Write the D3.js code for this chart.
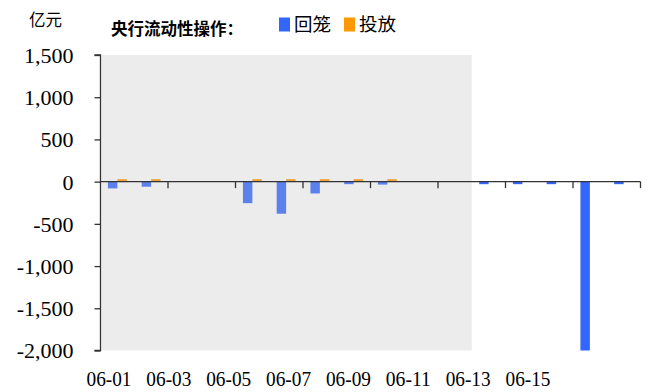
<!DOCTYPE html>
<html><head><meta charset="utf-8">
<script src="https://cdn.jsdelivr.net/npm/d3@7"></script>
<style>body{margin:0;background:#fff}</style>
</head><body><svg id="c" width="651" height="392"></svg>
<script>
const categories = ["06-01","06-02","06-03","06-04","06-05","06-06","06-07","06-08","06-09","06-10","06-11","06-12","06-13","06-14","06-15","06-16"];
const huilong = [-80,-60,0,0,-255,-380,-140,-30,-35,0,0,-30,-30,-30,-2000,-30];
const toufang = [30,30,0,0,30,30,30,30,30,0,0,0,0,0,0,0];
const shadedDays = ["06-01","06-11"];
const yTicks = [1500,1000,500,0,-500,-1000,-1500,-2000];
const xLabels = ["06-01","06-03","06-05","06-07","06-09","06-11","06-13","06-15"];
const seriesNames = ["回笼","投放"];
const colors = ["#3366FF","#FF9900"];

const svg = d3.select("#c");
const serif = "'Liberation Serif','Times New Roman',serif";
const cjk = "'Noto Sans CJK SC','Noto Sans',sans-serif";
const fmt = d3.formatLocale({decimal: ".", thousands: ",", grouping: [3], currency: ["", ""], minus: "-"}).format(",");

const x = d3.scaleBand().domain(categories).range([100.5, 640.5]).padding(0);
const y = d3.scaleLinear().domain([-2000, 1500]).range([350.5, 55]);
const bw = x.bandwidth() * 0.28;

// bars
const g = svg.append("g");
g.selectAll(".b1").data(categories).enter().append("rect")
  .attr("x", d => x(d) + x.bandwidth()/2 - bw)
  .attr("width", bw)
  .attr("y", (d,i) => y(Math.max(0, huilong[i])))
  .attr("height", (d,i) => Math.abs(y(huilong[i]) - y(0)))
  .attr("fill", colors[0]);
g.selectAll(".b2").data(categories).enter().append("rect")
  .attr("x", d => x(d) + x.bandwidth()/2)
  .attr("width", bw)
  .attr("y", (d,i) => y(Math.max(0, toufang[i])))
  .attr("height", (d,i) => Math.abs(y(toufang[i]) - y(0)))
  .attr("fill", colors[1]);

// shaded overlay
svg.append("rect")
  .attr("x", x(shadedDays[0]) + 1)
  .attr("width", x(shadedDays[1]) + x.bandwidth() - x(shadedDays[0]) - 1)
  .attr("y", y(1500))
  .attr("height", y(-2000) - y(1500))
  .attr("fill", "#bfbfbf").attr("opacity", 0.3);

// y axis
const ya = svg.append("g").attr("transform", "translate(100.5,0)")
  .call(d3.axisLeft(y).tickValues(yTicks).tickSize(6).tickPadding(21).tickFormat(fmt));
ya.select(".domain").attr("stroke", "#333").attr("stroke-width", 1.3).attr("d", `M-6,${y(1500)}H0V${y(-2000)}H-6`);
ya.selectAll(".tick line").attr("stroke", "#333").attr("stroke-width", 1.3);
ya.selectAll(".tick text").attr("font-family", serif).attr("font-size", 22).attr("fill", "#000").attr("dy", "0.34em");

// x axis at zero
const z = y(0);
svg.append("line").attr("x1", 100.5).attr("x2", 640.5).attr("y1", z).attr("y2", z)
  .attr("stroke", "#333").attr("stroke-width", 1.3);
const tickCats = categories.filter((d,i) => i % 2 === 1);
svg.selectAll(".xt").data(tickCats).enter().append("line")
  .attr("x1", d => x(d) + x.bandwidth()).attr("x2", d => x(d) + x.bandwidth())
  .attr("y1", z).attr("y2", z + 6.5)
  .attr("stroke", "#333").attr("stroke-width", 1.3);

// x labels (squeezed like reference)
const xl = d3.scalePoint().domain(xLabels).range([109, 528]);
svg.selectAll(".xl").data(xLabels).enter().append("text")
  .attr("x", d => xl(d)).attr("y", 386)
  .attr("text-anchor", "middle")
  .attr("font-family", serif).attr("font-size", 21.5)
  .attr("textLength", 45).attr("lengthAdjust", "spacingAndGlyphs")
  .text(d => d);

// unit
svg.append("text").attr("x", 29).attr("y", 26).attr("font-family", cjk).attr("font-size", 16.5).text("亿元");
// title
svg.append("text").attr("x", 111).attr("y", 35).attr("font-family", cjk).attr("font-weight", "bold").attr("font-size", 16.5).text("央行流动性操作：");
// legend
const lx = [279, 344];
seriesNames.forEach((n,i) => {
  svg.append("rect").attr("x", lx[i]).attr("y", 17.5).attr("width", 11).attr("height", 14).attr("fill", colors[i]);
  svg.append("text").attr("x", lx[i] + 15).attr("y", 31).attr("font-family", cjk).attr("font-size", 18.5).text(n);
});
</script></body></html>
